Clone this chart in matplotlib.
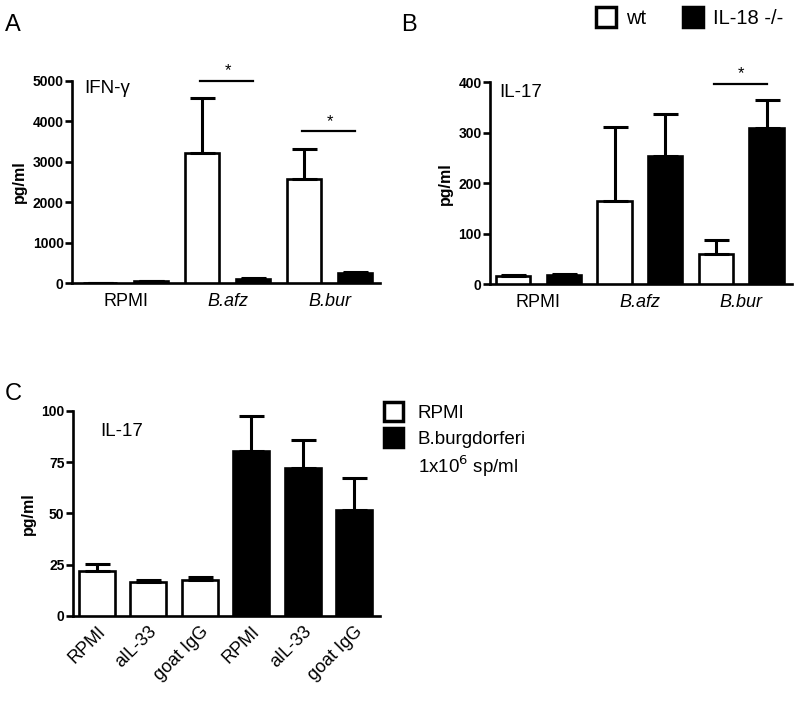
import numpy as np
import matplotlib.pyplot as plt
from matplotlib.patches import Patch

plt.rcParams['font.family'] = ['Liberation Sans', 'DejaVu Sans']

groups = ['RPMI', 'B.afz', 'B.bur']
ifng_wt = [10, 3230, 2570]
ifng_wt_err = [5, 1350, 750]
ifng_ko = [50, 100, 250]
ifng_ko_err = [10, 30, 40]

il17_wt = [16, 165, 59]
il17_wt_err = [2, 147, 28]
il17_ko = [18, 254, 310]
il17_ko_err = [2, 83, 55]

c_labels = ['RPMI', 'aIL-33', 'goat IgG', 'RPMI', 'aIL-33', 'goat IgG']
c_vals = [22, 16.5, 17.5, 80.5, 72, 51.5]
c_err = [3.5, 1, 1.2, 17, 14, 15.5]
c_fill = ['white'] * 3 + ['black'] * 3

LW = 1.9


def style(ax, ymax, ticks):
    for s in ['top', 'right']:
        ax.spines[s].set_visible(False)
    for s in ['left', 'bottom']:
        ax.spines[s].set_linewidth(LW)
    ax.set_ylim(0, ymax)
    ax.set_yticks(ticks)
    ax.tick_params(axis='y', width=LW, length=5, labelsize=10, pad=1)
    for lab in ax.get_yticklabels():
        lab.set_fontweight('bold')
    ax.set_ylabel('pg/ml', fontsize=11.5, fontweight='bold', labelpad=4)


def grouped(ax, wt, wt_err, ko, ko_err):
    x = np.arange(len(groups))
    w = 0.34
    ax.bar(x - 0.25, wt, w, color='white', edgecolor='black', linewidth=LW,
           yerr=[np.zeros(len(wt)), wt_err], capsize=9,
           error_kw=dict(elinewidth=LW + 0.3, capthick=LW + 0.3, ecolor='black'), zorder=3)
    ax.bar(x + 0.25, ko, w, color='black', edgecolor='black', linewidth=LW,
           yerr=[np.zeros(len(ko)), ko_err], capsize=9,
           error_kw=dict(elinewidth=LW + 0.3, capthick=LW + 0.3, ecolor='black'), zorder=3)
    ax.set_xticks(x)
    ax.set_xticklabels(groups, fontsize=13)
    for lab in ax.get_xticklabels()[1:]:
        lab.set_fontstyle('italic')
    ax.tick_params(axis='x', length=0, pad=7)


def sig(ax, g, y, dy):
    ax.plot([g - 0.27, g + 0.25], [y, y], color='black', lw=1.6, clip_on=False)
    ax.text(g, y + dy, '*', ha='center', va='bottom', fontsize=12, clip_on=False)


fig = plt.figure(figsize=(8, 7.03), dpi=100)

# panel A
axA = fig.add_axes([0.09, 0.597, 0.385, 0.288])
grouped(axA, ifng_wt, ifng_wt_err, ifng_ko, ifng_ko_err)
axA.set_xlim(-0.525, 2.495)
style(axA, 5000, [0, 1000, 2000, 3000, 4000, 5000])
sig(axA, 1, 5000, 60)
sig(axA, 2, 3760, 60)
axA.text(0.04, 0.96, 'IFN-γ', transform=axA.transAxes, fontsize=13.5, va='center')

# panel B
axB = fig.add_axes([0.6125, 0.596, 0.3775, 0.287])
grouped(axB, il17_wt, il17_wt_err, il17_ko, il17_ko_err)
axB.set_xlim(-0.478, 2.5)
style(axB, 400, [0, 100, 200, 300, 400])
sig(axB, 2, 397, 5)
axB.text(0.03, 0.95, 'IL-17', transform=axB.transAxes, fontsize=13.5, va='center')

# panel C
axC = fig.add_axes([0.091, 0.124, 0.384, 0.2916])
xc = np.arange(len(c_labels))
axC.bar(xc, c_vals, 0.7, color=c_fill, edgecolor='black', linewidth=LW,
        yerr=[np.zeros(len(c_vals)), c_err], capsize=9,
        error_kw=dict(elinewidth=LW + 0.3, capthick=LW + 0.3, ecolor='black'), zorder=3)
axC.set_xlim(-0.467, 5.5)
style(axC, 100, [0, 25, 50, 75, 100])
axC.set_xticks(xc)
axC.set_xticklabels(c_labels, fontsize=13, rotation=45, ha='right', rotation_mode='anchor')
axC.tick_params(axis='x', length=0, pad=5)
axC.text(0.09, 0.9, 'IL-17', transform=axC.transAxes, fontsize=13.5, va='center')

# panel letters
fig.text(0.006, 0.965, 'A', fontsize=17, va='center')
fig.text(0.502, 0.965, 'B', fontsize=17, va='center')
fig.text(0.006, 0.44, 'C', fontsize=17, va='center')

h_wt = Patch(facecolor='white', edgecolor='black', linewidth=2.5)
h_ko = Patch(facecolor='black', edgecolor='black', linewidth=2.5)
h_none = Patch(facecolor='none', edgecolor='none')
fig.legend([h_wt, h_ko], ['wt', 'IL-18 -/-'], ncol=2, loc='center left',
           bbox_to_anchor=(0.745, 0.975), frameon=False, fontsize=14.5,
           handlelength=1.0, handleheight=1.1, handletextpad=0.5, columnspacing=1.8,
           borderaxespad=0, borderpad=0)
fig.legend([h_wt, h_ko, h_none], ['RPMI', 'B.burgdorferi', '1x10$^{6}$ sp/ml'], loc='upper left',
           bbox_to_anchor=(0.48, 0.428), frameon=False, fontsize=13.5,
           handlelength=1.0, handleheight=1.2, handletextpad=0.8, labelspacing=0.3,
           borderaxespad=0, borderpad=0)

fig.savefig('out.png', dpi=100)
